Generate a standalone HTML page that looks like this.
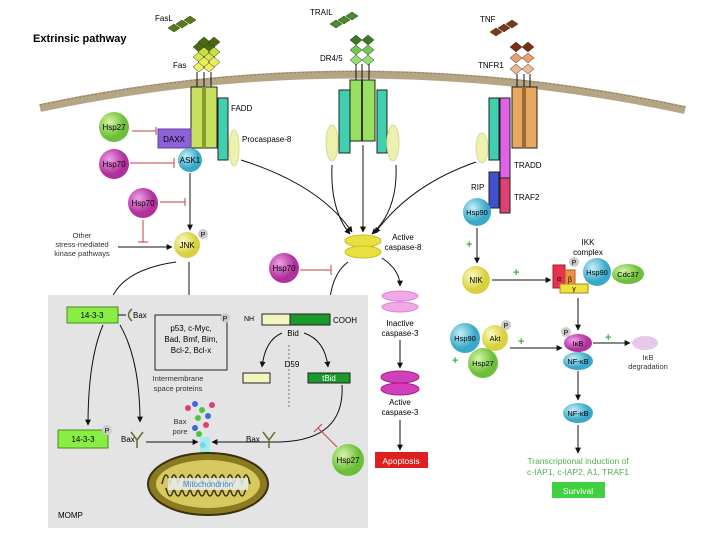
<!DOCTYPE html>
<html><head><meta charset="utf-8"><style>
body{margin:0;background:#fff}
svg{display:block;font-family:"Liberation Sans",sans-serif}
</style></head><body>
<svg width="720" height="540" viewBox="0 0 720 540" xmlns="http://www.w3.org/2000/svg">
<defs>
<marker id="ah" viewBox="0 0 10 10" refX="9" refY="5" markerWidth="6" markerHeight="6" orient="auto"><path d="M0,0L10,5L0,10z" fill="#111"/></marker>
<radialGradient id="gG" cx="35%" cy="35%"><stop offset="0" stop-color="#d6f5a8"/><stop offset="1" stop-color="#6cbf3a"/></radialGradient>
<radialGradient id="gM" cx="35%" cy="35%"><stop offset="0" stop-color="#f0a0e8"/><stop offset="1" stop-color="#b0309c"/></radialGradient>
<radialGradient id="gC" cx="35%" cy="35%"><stop offset="0" stop-color="#c8f0f8"/><stop offset="1" stop-color="#3aa8c8"/></radialGradient>
<radialGradient id="gY" cx="35%" cy="35%"><stop offset="0" stop-color="#fdfbc0"/><stop offset="1" stop-color="#d8d040"/></radialGradient>
</defs>

<text x="33" y="42" font-size="11" font-weight="bold">Extrinsic pathway</text>

<path d="M40,108 Q360,40 685,110" fill="none" stroke="#b5a584" stroke-width="8"/>
<path d="M40,105 Q360,37 685,107" fill="none" stroke="#8c7c5c" stroke-width="1" stroke-dasharray="2 2"/>

<g fill="#5a7a1a" stroke="#2a3a0a" stroke-width=".5"><path d="M168,28l6,-4 6,4 -6,4z"/><path d="M176,24l6,-4 6,4 -6,4z"/><path d="M184,20l6,-4 6,4 -6,4z"/></g>
<g fill="#4a8a2a" stroke="#1a3a0a" stroke-width=".5"><path d="M330,24l6,-4 6,4 -6,4z"/><path d="M338,20l6,-4 6,4 -6,4z"/><path d="M346,16l6,-4 6,4 -6,4z"/></g>
<g fill="#7a3a1a" stroke="#3a1a0a" stroke-width=".5"><path d="M490,32l6,-4 6,4 -6,4z"/><path d="M498,28l6,-4 6,4 -6,4z"/><path d="M506,24l6,-4 6,4 -6,4z"/></g>
<text x="155" y="21" font-size="8">FasL</text>
<text x="310" y="15" font-size="8">TRAIL</text>
<text x="480" y="22" font-size="8">TNF</text>

<g stroke="#333" stroke-width=".5">
<path d="M193,47l6,-5 6,5 -6,5z M203,47l6,-5 6,5 -6,5z" fill="#4a6a10"/>
<path d="M193,57l6,-5 6,5 -6,5z M203,57l6,-5 6,5 -6,5z" fill="#d8e850"/>
<path d="M193,67l6,-5 6,5 -6,5z M203,67l6,-5 6,5 -6,5z" fill="#f0f060"/>
<path d="M198,42l6,-5 6,5 -6,5z M208,42l6,-5 6,5 -6,5z" fill="#4a6a10"/>
<path d="M198,52l6,-5 6,5 -6,5z M208,52l6,-5 6,5 -6,5z" fill="#c8e040"/>
<path d="M198,62l6,-5 6,5 -6,5z M208,62l6,-5 6,5 -6,5z" fill="#e8f060"/>
</g>
<g stroke="#111" stroke-width="1"><line x1="197" y1="72" x2="197" y2="88"/><line x1="204" y1="72" x2="204" y2="88"/><line x1="211" y1="72" x2="211" y2="88"/></g>
<rect x="191" y="87" width="26" height="61" fill="#c8e060" stroke="#222"/>
<rect x="202" y="87" width="4" height="61" fill="#8a9a30"/>
<rect x="218" y="98" width="10" height="62" fill="#40d0b0" stroke="#222"/>
<ellipse cx="234" cy="148" rx="5" ry="18" fill="#eef0b0" stroke="#d8dc90"/>
<text x="173" y="68" font-size="8">Fas</text>
<text x="231" y="111" font-size="8">FADD</text>
<text x="242" y="142" font-size="8">Procaspase-8</text>

<g stroke="#333" stroke-width=".5">
<path d="M350,40l6,-5 6,5 -6,5z M362,40l6,-5 6,5 -6,5z" fill="#3a7a20"/>
<path d="M350,50l6,-5 6,5 -6,5z M362,50l6,-5 6,5 -6,5z" fill="#70c850"/>
<path d="M350,60l6,-5 6,5 -6,5z M362,60l6,-5 6,5 -6,5z" fill="#90e070"/>
</g>
<g stroke="#111"><line x1="356" y1="64" x2="356" y2="81"/><line x1="362" y1="64" x2="362" y2="81"/><line x1="369" y1="64" x2="369" y2="81"/></g>
<text x="320" y="61" font-size="8">DR4/5</text>
<rect x="339" y="90" width="11" height="63" fill="#40d0b0" stroke="#222"/>
<rect x="350" y="80" width="25" height="61" fill="#98e060" stroke="#222"/>
<line x1="362" y1="80" x2="362" y2="141" stroke="#333" stroke-width="2"/>
<rect x="377" y="90" width="10" height="63" fill="#40d0b0" stroke="#222"/>
<ellipse cx="332" cy="143" rx="6" ry="18" fill="#eef0b0" stroke="#d8dc90"/>
<ellipse cx="393" cy="143" rx="6" ry="18" fill="#eef0b0" stroke="#d8dc90"/>

<g stroke="#333" stroke-width=".5">
<path d="M510,47l6,-5 6,5 -6,5z M522,47l6,-5 6,5 -6,5z" fill="#7a3010"/>
<path d="M510,58l6,-5 6,5 -6,5z M522,58l6,-5 6,5 -6,5z" fill="#e8a070"/>
<path d="M510,69l6,-5 6,5 -6,5z M522,69l6,-5 6,5 -6,5z" fill="#f0b890"/>
</g>
<g stroke="#111"><line x1="517" y1="74" x2="517" y2="88"/><line x1="524" y1="74" x2="524" y2="88"/><line x1="530" y1="74" x2="530" y2="88"/></g>
<text x="478" y="68" font-size="8">TNFR1</text>
<rect x="512" y="87" width="25" height="61" fill="#e8a860" stroke="#222"/>
<rect x="522" y="87" width="4" height="61" fill="#9a6a3a"/>
<rect x="500" y="98" width="10" height="80" fill="#e060e8" stroke="#222"/>
<rect x="489" y="98" width="10" height="62" fill="#40d0b0" stroke="#222"/>
<rect x="489" y="172" width="10" height="36" fill="#4050d0" stroke="#222"/>
<rect x="500" y="178" width="10" height="35" fill="#e04070" stroke="#222"/>
<ellipse cx="482" cy="148" rx="6" ry="15" fill="#eef0b0" stroke="#d8dc90"/>
<text x="514" y="168" font-size="8">TRADD</text>
<text x="514" y="200" font-size="8">TRAF2</text>
<text x="471" y="190" font-size="8">RIP</text>
<circle cx="477" cy="212" r="14" fill="url(#gC)"/>
<text x="477" y="215" font-size="7.5" text-anchor="middle">Hsp90</text>

<circle cx="114" cy="127" r="15" fill="url(#gG)"/><text x="114" y="130" font-size="8" text-anchor="middle">Hsp27</text>
<rect x="158" y="129" width="33" height="19" fill="#9060d8" stroke="#6040a0"/><text x="174" y="142" font-size="8" text-anchor="middle">DAXX</text>
<circle cx="114" cy="164" r="15" fill="url(#gM)"/><text x="114" y="167" font-size="8" text-anchor="middle">Hsp70</text>
<circle cx="190" cy="160" r="12" fill="url(#gC)"/><text x="190" y="163" font-size="8" text-anchor="middle">ASK1</text>
<circle cx="143" cy="203" r="15" fill="url(#gM)"/><text x="143" y="206" font-size="8" text-anchor="middle">Hsp70</text>
<circle cx="187" cy="245" r="13" fill="url(#gY)"/><text x="187" y="248" font-size="8" text-anchor="middle">JNK</text>
<circle cx="203" cy="234" r="5" fill="#ccc"/><text x="203" y="237" font-size="7" text-anchor="middle">P</text>
<g stroke="#c04040" stroke-width="1"><line x1="132" y1="131" x2="156" y2="131"/><line x1="156" y1="127" x2="156" y2="135"/>
<line x1="130" y1="163" x2="174" y2="163"/><line x1="174" y1="158" x2="174" y2="168"/>
<line x1="160" y1="202" x2="185" y2="202"/><line x1="185" y1="198" x2="185" y2="206"/>
<line x1="143" y1="220" x2="143" y2="242"/><line x1="138" y1="242" x2="148" y2="242"/>
<line x1="300" y1="270" x2="331" y2="270"/><line x1="331" y1="265" x2="331" y2="275"/></g>
<text x="82" y="238" font-size="7.5" text-anchor="middle" fill="#333">Other</text>
<text x="82" y="247" font-size="7.5" text-anchor="middle" fill="#333">stress-mediated</text>
<text x="82" y="256" font-size="7.5" text-anchor="middle" fill="#333">kinase pathways</text>
<g stroke="#111" fill="none" marker-end="url(#ah)">
<line x1="118" y1="247" x2="172" y2="247"/>
<line x1="190" y1="173" x2="190" y2="230"/>
<path d="M241,160 Q320,185 352,232"/>
<path d="M332,165 Q330,210 350,234"/>
<line x1="363" y1="145" x2="363" y2="232"/>
<path d="M396,165 Q398,210 372,234"/>
<path d="M476,162 Q410,185 375,233"/>
<line x1="477" y1="228" x2="477" y2="263"/>
<line x1="492" y1="280" x2="551" y2="280"/>
<path d="M176,262 Q120,270 110,303"/>
<line x1="189" y1="262" x2="189" y2="313"/>
<path d="M348,262 Q330,275 329,311"/>
<path d="M382,258 Q400,270 400,286"/>
<line x1="400" y1="340" x2="400" y2="368"/>
<line x1="400" y1="420" x2="400" y2="450"/>
<line x1="578" y1="298" x2="578" y2="330"/>
<line x1="593" y1="343" x2="630" y2="343"/>
<line x1="510" y1="348" x2="562" y2="348"/>
<line x1="578" y1="371" x2="578" y2="400"/>
<line x1="578" y1="425" x2="578" y2="453"/>
</g>
<ellipse cx="363" cy="241" rx="18" ry="6" fill="#e8e040" stroke="#c8c020"/>
<ellipse cx="363" cy="252" rx="18" ry="6" fill="#e8e040" stroke="#c8c020"/>
<text x="403" y="240" font-size="8" text-anchor="middle">Active</text>
<text x="403" y="250" font-size="8" text-anchor="middle">caspase-8</text>
<circle cx="284" cy="268" r="15" fill="url(#gM)"/><text x="284" y="271" font-size="8" text-anchor="middle">Hsp70</text>

<rect x="48" y="295" width="320" height="233" fill="#e4e4e4"/>
<rect x="67" y="307" width="51" height="16" fill="#88ee44" stroke="#4a8a20"/><text x="92" y="318" font-size="8" text-anchor="middle">14-3-3</text>
<line x1="118" y1="315" x2="126" y2="315" stroke="#111"/>
<path d="M132,309 Q125,315 132,321" fill="none" stroke="#6a6a30" stroke-width="1.5"/>
<text x="133" y="318" font-size="8">Bax</text>
<rect x="155" y="315" width="72" height="55" fill="none" stroke="#222"/>
<circle cx="225" cy="318" r="5" fill="#ccc"/><text x="225" y="321" font-size="7" text-anchor="middle">P</text>
<text x="191" y="331" font-size="8" text-anchor="middle">p53, c-Myc,</text>
<text x="191" y="342" font-size="8" text-anchor="middle">Bad, Bmf, Bim,</text>
<text x="191" y="353" font-size="8" text-anchor="middle">Bcl-2, Bcl-x</text>
<text x="244" y="321" font-size="7">NH</text>
<rect x="262" y="314" width="28" height="11" fill="#f4f4c0" stroke="#222"/>
<rect x="290" y="314" width="40" height="11" fill="#1a9a2a" stroke="#222"/>
<text x="333" y="323" font-size="8">COOH</text>
<text x="293" y="336" font-size="8" text-anchor="middle">Bid</text>
<line x1="289" y1="345" x2="289" y2="407" stroke="#777" stroke-dasharray="2 2"/>
<text x="292" y="367" font-size="8" text-anchor="middle">D59</text>
<rect x="243" y="373" width="27" height="10" fill="#f4f4c0" stroke="#222"/>
<rect x="308" y="373" width="42" height="10" fill="#1a9a2a" stroke="#222"/><text x="329" y="381" font-size="8" fill="#fff" text-anchor="middle">tBid</text>
<g stroke="#111" fill="none" marker-end="url(#ah)">
<path d="M282,333 Q265,340 262,367"/>
<path d="M304,333 Q325,340 328,367"/>
<path d="M103,325 Q88,360 88,425"/>
<path d="M120,325 Q140,360 140,422"/>
<path d="M342,385 Q345,440 280,442 L212,442"/>
<line x1="146" y1="442" x2="198" y2="442"/>
</g>
<text x="178" y="381" font-size="7.5" text-anchor="middle" fill="#333">Intermembrane</text>
<text x="178" y="391" font-size="7.5" text-anchor="middle" fill="#333">space proteins</text>
<g><circle cx="195" cy="404" r="3" fill="#3a6ad8"/><circle cx="188" cy="408" r="3" fill="#e04070"/><circle cx="202" cy="410" r="3" fill="#50c040"/><circle cx="212" cy="405" r="3" fill="#e04070"/><circle cx="208" cy="416" r="3" fill="#3a6ad8"/><circle cx="198" cy="418" r="3" fill="#50c040"/><circle cx="195" cy="428" r="3" fill="#3a6ad8"/><circle cx="206" cy="425" r="3" fill="#e04070"/><circle cx="199" cy="434" r="3" fill="#50c040"/><circle cx="203" cy="445" r="3" fill="#3a6ad8"/></g>
<text x="180" y="424" font-size="7.5" text-anchor="middle" fill="#333">Bax</text>
<text x="180" y="434" font-size="7.5" text-anchor="middle" fill="#333">pore</text>
<rect x="200" y="437" width="10" height="20" fill="#90f0f0" opacity=".8"/>
<rect x="58" y="430" width="50" height="18" fill="#88ee44" stroke="#4a8a20"/><text x="83" y="442" font-size="8" text-anchor="middle">14-3-3</text>
<circle cx="107" cy="430" r="5" fill="#ccc"/><text x="107" y="433" font-size="7" text-anchor="middle">P</text>
<text x="121" y="442" font-size="8">Bax</text>
<path d="M131,432 L137,440 L143,432 M137,440 V448" fill="none" stroke="#6a6a30" stroke-width="1.5"/>
<text x="246" y="442" font-size="8">Bax</text>
<path d="M263,432 L269,440 L275,432 M269,440 V448" fill="none" stroke="#6a6a30" stroke-width="1.5"/>
<line x1="318" y1="428" x2="337" y2="447" stroke="#c04040"/><line x1="314" y1="432" x2="322" y2="424" stroke="#c04040"/>
<circle cx="348" cy="460" r="16" fill="url(#gG)"/><text x="348" y="463" font-size="8" text-anchor="middle">Hsp27</text>
<ellipse cx="208" cy="484" rx="60" ry="31" fill="#8a7a20" stroke="#3a3010" stroke-width="2"/>
<ellipse cx="208" cy="484" rx="52" ry="24" fill="#d8c860"/>
<path d="M162,484 q4,-18 8,0 q4,-18 8,0 q4,-18 8,0 q4,-18 8,0 q4,-18 8,0 q4,-18 8,0 q4,-18 8,0 q4,-18 8,0 q4,-18 8,0 q4,-18 8,0 q4,-18 8,0" fill="none" stroke="#3a3010" stroke-width="1.5"/>
<path d="M166,488 q4,16 8,0 q4,16 8,0 q4,16 8,0 q4,16 8,0 q4,16 8,0 q4,16 8,0 q4,16 8,0 q4,16 8,0 q4,16 8,0 q4,16 8,0" fill="none" stroke="#3a3010" stroke-width="1.5"/>
<rect x="168" y="478" width="80" height="12" fill="#e8eef0" opacity=".85"/>
<text x="208" y="487" font-size="8" fill="#3a80d0" text-anchor="middle">Mitochondrion</text>
<text x="58" y="518" font-size="8">MOMP</text>

<ellipse cx="400" cy="296" rx="18" ry="5" fill="#f0a8e8" stroke="#d888d0"/>
<ellipse cx="400" cy="307" rx="18" ry="5" fill="#f0a8e8" stroke="#d888d0"/>
<text x="400" y="326" font-size="8" text-anchor="middle">Inactive</text>
<text x="400" y="336" font-size="8" text-anchor="middle">caspase-3</text>
<ellipse cx="400" cy="377" rx="19" ry="6" fill="#d040b8" stroke="#a02090"/>
<ellipse cx="400" cy="389" rx="19" ry="6" fill="#d040b8" stroke="#a02090"/>
<text x="400" y="405" font-size="8" text-anchor="middle">Active</text>
<text x="400" y="415" font-size="8" text-anchor="middle">caspase-3</text>
<rect x="375" y="452" width="53" height="16" fill="#e02020"/><text x="401" y="464" font-size="8.5" fill="#fff" text-anchor="middle">Apoptosis</text>

<g fill="#40b040" font-size="11" font-weight="bold"><text x="466" y="248">+</text><text x="513" y="276">+</text><text x="452" y="364">+</text><text x="518" y="345">+</text><text x="605" y="341">+</text></g>
<circle cx="476" cy="280" r="14" fill="url(#gY)"/><text x="476" y="283" font-size="8" text-anchor="middle">NIK</text>
<text x="588" y="245" font-size="8" text-anchor="middle">IKK</text>
<text x="588" y="255" font-size="8" text-anchor="middle">complex</text>
<rect x="553" y="265" width="12" height="23" fill="#e83050" stroke="#a02030"/>
<text x="559" y="281" font-size="7" text-anchor="middle">α</text>
<rect x="565" y="270" width="10" height="18" fill="#f09040" stroke="#a06020"/>
<text x="570" y="282" font-size="7" text-anchor="middle">β</text>
<circle cx="574" cy="262" r="5" fill="#ccc"/><text x="574" y="265" font-size="7" text-anchor="middle">P</text>
<circle cx="597" cy="272" r="14" fill="url(#gC)"/><text x="597" y="275" font-size="7.5" text-anchor="middle">Hsp90</text>
<ellipse cx="628" cy="274" rx="16" ry="10" fill="url(#gG)"/><text x="628" y="277" font-size="7.5" text-anchor="middle">Cdc37</text>
<rect x="560" y="284" width="28" height="9" fill="#f0e040" stroke="#a09020"/><text x="574" y="291" font-size="7" text-anchor="middle">γ</text>
<circle cx="465" cy="338" r="15" fill="url(#gC)"/><text x="465" y="341" font-size="7.5" text-anchor="middle">Hsp90</text>
<circle cx="495" cy="338" r="13" fill="url(#gY)"/><text x="495" y="341" font-size="7.5" text-anchor="middle">Akt</text>
<circle cx="506" cy="325" r="5" fill="#ccc"/><text x="506" y="328" font-size="7" text-anchor="middle">P</text>
<circle cx="483" cy="363" r="15" fill="url(#gG)"/><text x="483" y="366" font-size="7.5" text-anchor="middle">Hsp27</text>
<ellipse cx="578" cy="361" rx="15" ry="9" fill="url(#gC)"/><text x="578" y="364" font-size="7.5" text-anchor="middle">NF-κB</text>
<ellipse cx="578" cy="343" rx="14" ry="9" fill="url(#gM)"/><text x="578" y="346" font-size="7.5" text-anchor="middle">IκB</text>
<circle cx="566" cy="332" r="5" fill="#ccc"/><text x="566" y="335" font-size="7" text-anchor="middle">P</text>
<ellipse cx="645" cy="343" rx="13" ry="7" fill="#e8c8e8"/>
<text x="648" y="360" font-size="7.5" text-anchor="middle" fill="#333">IκB</text>
<text x="648" y="369" font-size="7.5" text-anchor="middle" fill="#333">degradation</text>
<ellipse cx="578" cy="413" rx="15" ry="10" fill="url(#gC)"/><text x="578" y="416" font-size="7.5" text-anchor="middle">NF-κB</text>
<text x="578" y="464" font-size="8.5" fill="#50b050" text-anchor="middle">Transcriptional induction of</text>
<text x="578" y="475" font-size="8.5" fill="#50b050" text-anchor="middle">c-IAP1, c-IAP2, A1, TRAF1</text>
<rect x="552" y="482" width="53" height="16" fill="#40d040"/><text x="578" y="494" font-size="8.5" fill="#fff" text-anchor="middle">Survival</text>
</svg>
</body></html>
